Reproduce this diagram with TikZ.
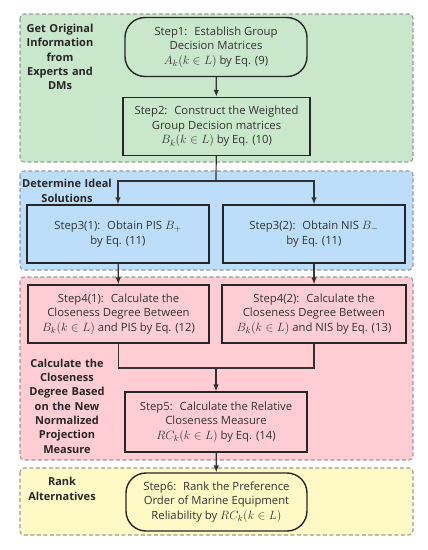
\documentclass[tikz,border=0pt]{standalone}
\usepackage{fontspec}
\setmainfont{Open Sans}
\usepackage{tikz}
\usetikzlibrary{positioning, arrows.meta, calc, shapes.misc}
\definecolor{phasegreen}{RGB}{201,231,202}
\definecolor{phaseblue}{RGB}{189,222,250}
\definecolor{phasepink}{RGB}{255,205,211}
\definecolor{phaseyellow}{RGB}{255,249,198}
\definecolor{linegray}{RGB}{50,50,50}
\tikzset{
	phasebox/.style={draw=gray!80, dashed, dash pattern=on 4pt off 2.5pt, line width=1.1pt, rounded corners=4pt}
}
\tikzset{
	phasetext/.style={font=\fontsize{11}{14.3}\selectfont\bfseries, align=center, text width=90pt, text=black!85}
}
\tikzset{
	stepbox/.style={draw=black!85, line width=1.4pt, minimum height=58pt, align=center, font=\fontsize{11.3}{14.6}\selectfont, text=black!80, inner sep=2pt},
	roundstep/.style={stepbox, rounded corners=20pt},
	flow/.style={draw=linegray, line width=1.2pt},
	flowarrow/.style={flow, -{Latex[length=7pt, width=5.5pt]}}
}
\newcommand{\mth}[1]{{\fontsize{12.5}{14.6}\selectfont$#1$}}
\begin{document}
\begin{tikzpicture}[x=1pt, y=-1pt]
      \useasboundingbox (0,0) rectangle (428,550);
      % background phases
      \draw[phasebox, fill=phasegreen] (20,14) rectangle (413,162);
      \draw[phasebox, fill=phaseblue] (20,171) rectangle (413,270);
      \draw[phasebox, fill=phasepink] (20,277) rectangle (413,460);
      \draw[phasebox, fill=phaseyellow] (20,468) rectangle (413,535);
      \node[phasetext] (getinfo) at (60,57) {Get Original\\Information\\from\\Experts and\\DMs};
      \node[phasetext] (ideal) at (67,191) {Determine Ideal\\Solutions};
      \node[phasetext] (closeness) at (67,406) {Calculate the\\Closeness\\Degree Based\\on the New\\Normalized\\Projection\\Measure};
      \node[phasetext] (rank) at (62,489) {Rank\\Alternatives};
      % steps
      \node[roundstep, fill=phasegreen, minimum width=182pt, minimum height=59pt] (s1) at (216,47) {Step1:~ Establish Group\\Decision Matrices\\\mth{A_k(k\in L)} by Eq. (9)};
      \node[stepbox, fill=phasegreen, minimum width=187pt] (s2) at (216.5,126.5) {Step2:~ Construct the Weighted\\Group Decision matrices\\\mth{B_k(k\in L)} by Eq. (10)};
      \node[stepbox, fill=phaseblue, minimum width=182pt] (s31) at (118,234) {Step3(1):~ Obtain PIS \mth{B_+}\\by Eq. (11)};
      \node[stepbox, fill=phaseblue, minimum width=182pt] (s32) at (314,234) {Step3(2):~ Obtain NIS \mth{B_-}\\by Eq. (11)};
      \node[stepbox, fill=phasepink, minimum width=181pt] (s41) at (118.5,314) {Step4(1):~ Calculate the\\Closeness Degree Between\\\mth{B_k(k\in L)} and PIS by Eq. (12)};
      \node[stepbox, fill=phasepink, minimum width=184pt] (s42) at (314,314) {Step4(2):~ Calculate the\\Closeness Degree Between\\\mth{B_k(k\in L)} and NIS by Eq. (13)};
      \node[stepbox, fill=phasepink, minimum width=182pt, minimum height=60pt] (s5) at (216,422) {Step5:~ Calculate the Relative\\Closeness Measure\\\mth{RC_k(k\in L)} by Eq. (14)};
      \node[roundstep, fill=phaseyellow, minimum width=181pt] (s6) at (216.5,502) {Step6:~ Rank the Preference\\Order of Marine Equipment\\Reliability by \mth{RC_k(k\in L)}};
      % connectors
      \coordinate (split) at (216,181);
      \coordinate (join) at (216,368);
      \draw[flowarrow] (s1) -- (s2);
      \draw[flow] (s2) -- (split);
      \draw[flowarrow] (split) -| (s31.north);
      \draw[flowarrow] (split) -| (s32.north);
      \draw[flowarrow] (s31) -- (s41);
      \draw[flowarrow] (s32) -- (s42);
      \draw[flow] (s41.south) |- (join) -| (s42.south);
      \draw[flowarrow] (join) -- (s5);
      \draw[flowarrow] (s5) -- (s6);
    \end{tikzpicture}
\end{document}
